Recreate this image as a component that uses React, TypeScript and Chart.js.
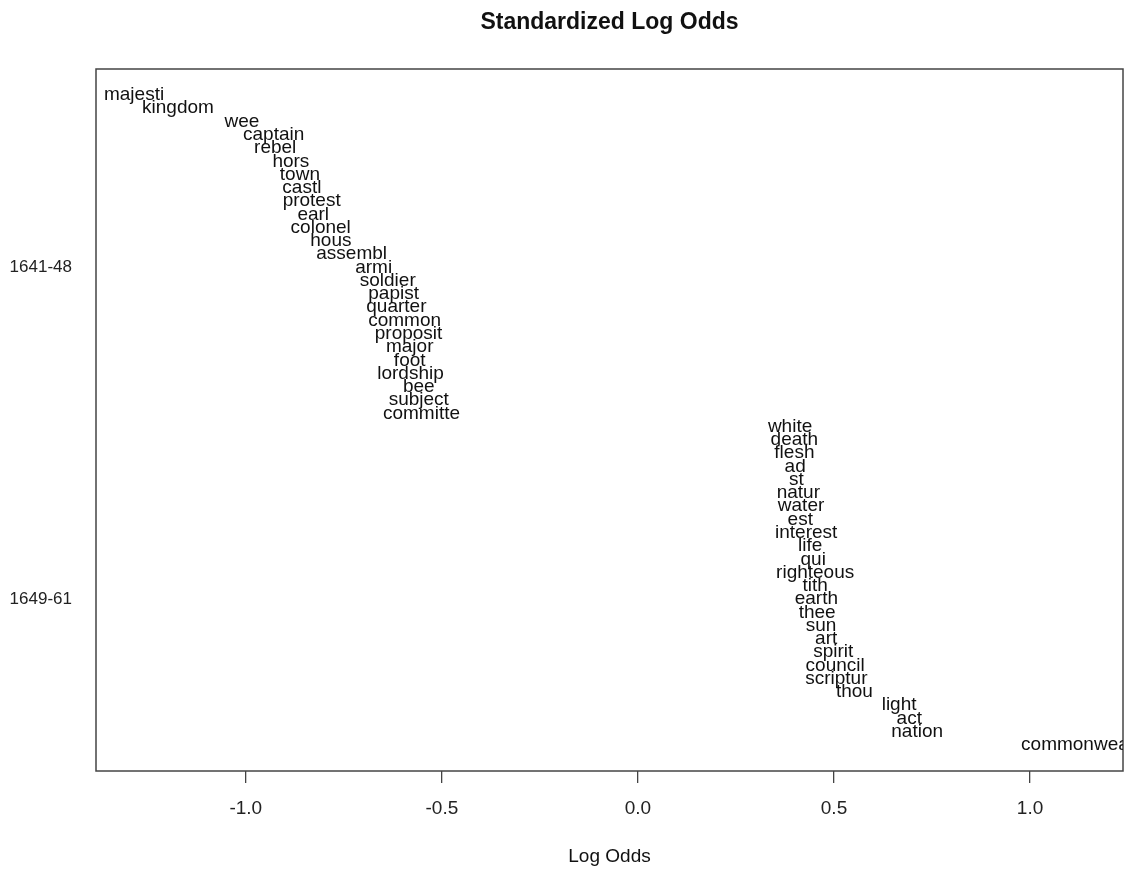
import React, { useEffect, useRef } from "react";
import { Chart, registerables } from "chart.js";

Chart.register(...registerables);

// Words distinctive of 1641-48 (top) and 1649-61 (bottom), with standardized log odds
const words1641 = [
  "majesti", "kingdom", "wee", "captain", "rebel", "hors", "town", "castl", "protest", "earl",
  "colonel", "hous", "assembl", "armi", "soldier", "papist", "quarter", "common", "proposit",
  "major", "foot", "lordship", "bee", "subject", "committe",
];
const odds1641 = [
  -1.285, -1.173, -1.010, -0.929, -0.925, -0.885, -0.862, -0.857, -0.832, -0.828,
  -0.809, -0.783, -0.730, -0.674, -0.638, -0.623, -0.616, -0.595, -0.585,
  -0.582, -0.582, -0.580, -0.559, -0.559, -0.552,
];
const words1649 = [
  "white", "death", "flesh", "ad", "st", "natur", "water", "est", "interest", "life",
  "qui", "righteous", "tith", "earth", "thee", "sun", "art", "spirit", "council", "scriptur",
  "thou", "light", "act", "nation", "commonwealth",
];
const odds1649 = [
  0.388, 0.399, 0.399, 0.401, 0.404, 0.409, 0.416, 0.414, 0.429, 0.439,
  0.447, 0.452, 0.452, 0.455, 0.457, 0.467, 0.480, 0.498, 0.503, 0.506,
  0.552, 0.666, 0.692, 0.712, 1.140,
];
const periodLabels = ["1641-48", "1649-61"];
const periodRanks = [14, 39];
const xTickValues = [-1.0, -0.5, 0.0, 0.5, 1.0];

const FONT = "'Liberation Sans', Arial, Helvetica, sans-serif";

export default function App() {
  const ref = useRef<HTMLCanvasElement | null>(null);

  useEffect(() => {
    const canvas = ref.current;
    if (!canvas) return;
    const words = [...words1641, ...words1649];
    const odds = [...odds1641, ...odds1649];
    const points = odds.map((v, i) => ({ x: v, y: i + 1 }));

    const xMin = Math.min(...odds);
    const xMax = Math.max(...odds);
    const xPad = (xMax - xMin) * 0.04;
    const yPad = (words.length - 1) * 0.04;

    const labelPlugin = {
      id: "wordLabels",
      afterDraw(chart: any) {
        const { ctx, chartArea } = chart;
        const xs = chart.scales.x;
        const ys = chart.scales.y;
        ctx.save();
        // plot box
        ctx.strokeStyle = "#444";
        ctx.lineWidth = 1.5;
        ctx.strokeRect(chartArea.left, chartArea.top, chartArea.right - chartArea.left, chartArea.bottom - chartArea.top);
        // words, clipped to the plot region
        ctx.save();
        ctx.beginPath();
        ctx.rect(chartArea.left, chartArea.top, chartArea.right - chartArea.left, chartArea.bottom - chartArea.top);
        ctx.clip();
        ctx.fillStyle = "#111";
        ctx.font = `19px ${FONT}`;
        ctx.textAlign = "center";
        ctx.textBaseline = "middle";
        const meta = chart.getDatasetMeta(0);
        meta.data.forEach((el: any, i: number) => {
          const px = xs.getPixelForValue(points[i].x);
          const py = ys.getPixelForValue(points[i].y);
          ctx.fillText(words[i], px, py);
        });
        ctx.restore();
        // title
        const cx = (chartArea.left + chartArea.right) / 2;
        ctx.fillStyle = "#111";
        ctx.textAlign = "center";
        ctx.textBaseline = "middle";
        ctx.font = `bold 23px ${FONT}`;
        ctx.fillText("Standardized Log Odds", cx, 23);
        ctx.font = `19px ${FONT}`;
        ctx.fillText("Log Odds", cx, 857);
        ctx.restore();
      },
    };

    const chart = new Chart(canvas, {
      type: "scatter",
      data: {
        datasets: [
          {
            data: points,
            pointRadius: 0,
            pointHoverRadius: 0,
            showLine: false,
          },
        ],
      },
      options: {
        animation: false,
        responsive: false,
        devicePixelRatio: 1,
        layout: { padding: { top: 69, right: 5, left: 0, bottom: 0 } },
        plugins: {
          legend: { display: false },
          tooltip: { enabled: false },
          title: { display: false },
        },
        scales: {
          x: {
            type: "linear",
            min: xMin - xPad,
            max: xMax + xPad,
            afterBuildTicks: (s: any) => {
              s.ticks = xTickValues.map((v) => ({ value: v }));
            },
            afterFit: (s: any) => {
              s.height = 99;
            },
            ticks: {
              callback: (v: any) => Number(v).toFixed(1),
              font: { family: FONT, size: 19 },
              color: "#222",
              padding: 14,
              maxRotation: 0,
              autoSkip: false,
            },
            grid: {
              display: true,
              drawOnChartArea: false,
              drawTicks: true,
              tickLength: 12,
              color: "#444",
              lineWidth: 1.3,
            },
            border: { display: false },
          },
          y: {
            type: "linear",
            reverse: true,
            min: 1 - yPad,
            max: words.length + yPad,
            afterBuildTicks: (s: any) => {
              s.ticks = periodRanks.map((v) => ({ value: v }));
            },
            afterFit: (s: any) => {
              s.width = 96;
            },
            ticks: {
              callback: (_v: any, i: number) => periodLabels[i],
              font: { family: FONT, size: 17 },
              color: "#222",
              padding: 24,
              autoSkip: false,
            },
            grid: { display: false, drawTicks: false },
            border: { display: false },
          },
        },
      },
      plugins: [labelPlugin],
    } as any);

    return () => chart.destroy();
  }, []);

  return (
    <div style={{ position: "absolute", left: 0, top: 0, width: 1128, height: 870, background: "#fff" }}>
      <canvas ref={ref} width={1128} height={870} style={{ display: "block" }} />
    </div>
  );
}
